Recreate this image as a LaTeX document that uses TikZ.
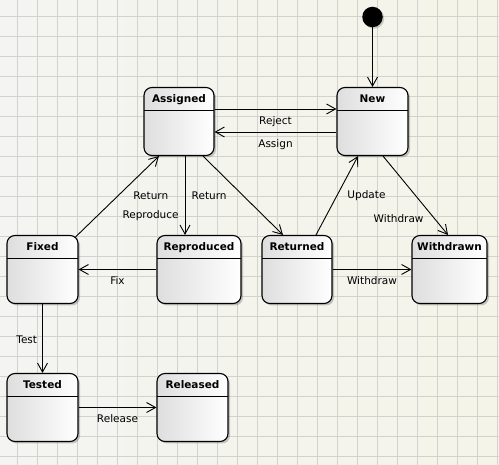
\documentclass[tikz,border=0pt]{standalone}
\usepackage{fontspec}
\setmainfont{DejaVu Sans}
\usetikzlibrary{arrows.meta, shadows}

\definecolor{paperl}{HTML}{F4F4F2}
\definecolor{paperr}{HTML}{F4F4E8}
\definecolor{gridgray}{HTML}{D2D2CE}

\tikzset{
  gridline/.style = {draw = gridgray, line width = 1pt},
  state/.style = {draw, line width = 1.1pt, rounded corners = 8pt,
    minimum height = 68pt, minimum width = 71pt, inner sep = 0pt,
    left color = black!13, right color = white,
    drop shadow = {shadow xshift = 2pt, shadow yshift = -2pt, opacity = .35, fill = black!60},
    path picture = {\draw[line width = .9pt]
      ([yshift = -23pt]path picture bounding box.north west)--([yshift = -23pt]path picture bounding box.north east);},
    label = {[statename]north:#1}},
  statename/.style = {font = \bfseries\fontsize{10.5}{12}\selectfont, anchor = base, yshift = -16pt},
  initial/.style = {circle, fill = black, minimum size = 20.5pt, inner sep = 0pt,
    drop shadow = {shadow xshift = 1.5pt, shadow yshift = -1.5pt, opacity = .3, fill = black!60}},
  trans/.style = {->, line width = .9pt},
  lbl/.style = {font = \fontsize{10.5}{12}\selectfont, anchor = base, inner sep = 0pt}
}

\begin{document}
\begin{tikzpicture}[x = 1pt, y = -1pt, >={Straight Barb[length = 9pt, width = 10pt]}]
  \useasboundingbox (0, 0) rectangle (499, 465);
  % paper and grid
  \shade[left color = paperl, right color = paperr] (0, 0) rectangle (499, 465);
  \foreach \i in {0, ..., 24}
    \draw[gridline] ({17 + 20*\i}, 0)--({17 + 20*\i}, 465);
  \foreach \i in {0, ..., 22}
    \draw[gridline] (0, {17 + 20*\i})--(499, {17 + 20*\i});

  % states
  \node[initial] (start) at (372.5, 17) {};
  \node[state = Assigned, minimum width = 70pt] (assigned) at (179, 121.5) {};
  \node[state = New] (new) at (372.5, 121.5) {};
  \node[state = Fixed] (fixed) at (42.5, 269.5) {};
  \node[state = Reproduced, minimum width = 84pt] (reproduced) at (199, 269.5) {};
  \node[state = Returned, minimum width = 70pt] (returned) at (297, 269.5) {};
  \node[state = Withdrawn, minimum width = 75pt] (withdrawn) at (449.5, 269.5) {};
  \node[state = Tested] (tested) at (42.5, 407.5) {};
  \node[state = Released] (released) at (192.5, 407.5) {};

  % transitions
  \draw[trans] (start)--(new);
  \draw[trans] ([yshift = 12.5pt]assigned.east)--([yshift = 12.5pt]new.west)
    node[lbl, midway, yshift = -16pt]{Reject};
  \draw[trans] ([yshift = -10.5pt]new.west)--([yshift = -10.5pt]assigned.east)
    node[lbl, midway, yshift = -16pt]{Assign};
  \draw[trans] ([shift = {(-3pt, -2pt)}]fixed.north east)--([xshift = -20pt]assigned.south)
    node[lbl, pos = .46, anchor = base west, xshift = 19pt]{Return};
  \draw[trans] ([xshift = 6pt]assigned.south)--([xshift = -14pt]reproduced.north)
    node[lbl, pos = .79, anchor = base east, xshift = -6pt]{Reproduce};
  \draw[trans] ([xshift = 24pt]assigned.south)--([xshift = -14pt]returned.north)
    node[lbl, pos = .55, anchor = base east, xshift = -20pt]{Return};
  \draw[trans] ([xshift = 19pt]returned.north)--([xshift = -14.5pt]new.south)
    node[lbl, midway, anchor = base west, xshift = 10pt, yshift = -3pt]{Update};
  \draw[trans] ([xshift = 10.5pt]new.south)--([xshift = -1.5pt]withdrawn.north)
    node[lbl, pos = .8, anchor = base east, xshift = -11pt, yshift = -3pt]{Withdraw};
  \draw[trans] (returned.east)--(withdrawn.west)
    node[lbl, midway, yshift = -15pt]{Withdraw};
  \draw[trans] (reproduced.west)--(fixed.east)
    node[lbl, midway, yshift = -15pt]{Fix};
  \draw[trans] (fixed.south)--(tested.north)
    node[lbl, midway, anchor = base east, xshift = -5pt, yshift = -5pt]{Test};
  \draw[trans] (tested.east)--(released.west)
    node[lbl, midway, yshift = -15pt]{Release};
\end{tikzpicture}
\end{document}
